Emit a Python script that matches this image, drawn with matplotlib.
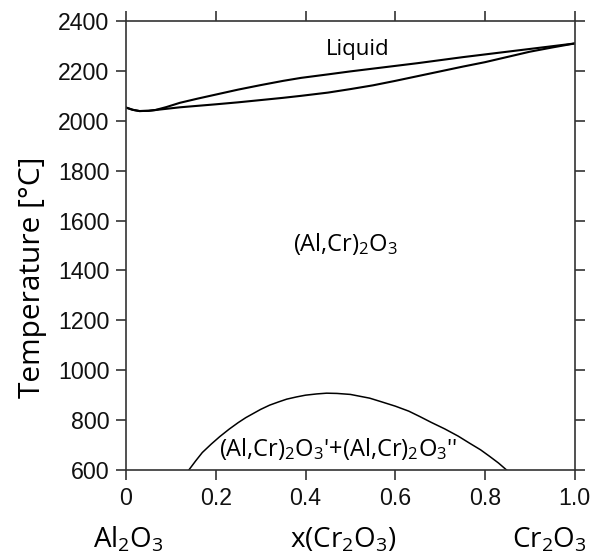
import matplotlib
matplotlib.use("Agg")
import matplotlib.pyplot as plt

# Liquidus and solidus of the Al2O3-Cr2O3 system (x = mole fraction Cr2O3)
x_melt = [0.0, 0.015, 0.03, 0.05, 0.065, 0.09, 0.12, 0.16, 0.2, 0.25, 0.3, 0.35, 0.39,
          0.45, 0.5, 0.55, 0.6, 0.65, 0.7, 0.75, 0.8, 0.85, 0.9, 0.95, 1.0]
T_liquidus = [2053, 2044, 2039, 2040, 2043, 2055, 2072, 2089, 2105, 2125, 2143, 2160, 2172,
              2186, 2198, 2209, 2220, 2231, 2243, 2255, 2266, 2277, 2288, 2299, 2310]
T_solidus = [2053, 2044, 2039, 2040, 2043, 2048, 2054, 2060, 2066, 2074, 2083, 2092, 2100,
             2113, 2127, 2142, 2160, 2179, 2198, 2217, 2235, 2256, 2277, 2294, 2310]

# Miscibility gap of the corundum solid solution
x_gap = [0.14, 0.155, 0.17, 0.19, 0.209, 0.23, 0.25, 0.267, 0.284, 0.30, 0.32, 0.34,
         0.358, 0.38, 0.40, 0.425, 0.447, 0.47, 0.50, 0.52, 0.543, 0.57, 0.60, 0.63,
         0.655, 0.68, 0.71, 0.74, 0.766, 0.79, 0.81, 0.83, 0.848]
T_gap = [600, 636, 670, 704, 734, 764, 790, 810, 827, 843, 860, 873,
         884, 893, 900, 905, 908, 907, 903, 896, 888, 873, 856, 836,
         814, 791, 765, 736, 707, 681, 655, 628, 600]

x_ticks = [0, 0.2, 0.4, 0.6, 0.8, 1.0]
x_ticklabels = ["0", "0.2", "0.4", "0.6", "0.8", "1.0"]
y_ticks = [600, 800, 1000, 1200, 1400, 1600, 1800, 2000, 2200, 2400]

plt.rcParams["mathtext.fontset"] = "custom"
plt.rcParams["mathtext.rm"] = "Open Sans"
plt.rcParams["mathtext.it"] = "Open Sans:italic"

LABEL_FONT = ["Open Sans", "DejaVu Sans"]
TICK_FONT = "Liberation Sans"
AX_COLOR = "#333333"

fig = plt.figure(figsize=(6.0, 5.6), dpi=100)
ax = fig.add_axes([0.21, 0.1607, 0.748, 0.8018])

ax.plot(x_melt, T_liquidus, color="black", lw=1.5, solid_joinstyle="round")
ax.plot(x_melt, T_solidus, color="black", lw=1.5, solid_joinstyle="round")
ax.plot(x_gap, T_gap, color="black", lw=1.1, solid_joinstyle="round")

ax.set_xlim(0, 1.0)
ax.set_ylim(600, 2400)

for side in ["left", "right", "top", "bottom"]:
    ax.spines[side].set_color(AX_COLOR)
    ax.spines[side].set_linewidth(1.2)

ax.set_xticks(x_ticks)
ax.set_xticklabels(x_ticklabels)
ax.set_yticks(y_ticks)
ax.tick_params(axis="both", direction="out", length=7, width=1.2, color=AX_COLOR,
               top=True, right=True, labeltop=False, labelright=False,
               labelsize=16.7, pad=5)
for lab in ax.get_xticklabels() + ax.get_yticklabels():
    lab.set_fontfamily(TICK_FONT)
    lab.set_color("#111111")

ax.set_ylabel("Temperature [°C]", fontsize=21.5, family=LABEL_FONT)
ax.yaxis.set_label_coords(-0.209, 0.43)
ax.yaxis.label.set_va("center")

ax.text(0.517, 2284, "Liquid", fontsize=16, family=LABEL_FONT,
        ha="center", va="center")
ax.text(0.488, 1505, r"(Al,Cr)$_\mathrm{2}$O$_\mathrm{3}$", fontsize=17,
        family=LABEL_FONT, ha="center", va="center")
ax.text(0.473, 684, r"(Al,Cr)$_\mathrm{2}$O$_\mathrm{3}$'+(Al,Cr)$_\mathrm{2}$O$_\mathrm{3}$''",
        fontsize=17, family=LABEL_FONT, ha="center", va="center")

# Component labels below the composition axis
fig.text(128 / 600, 1 - 548 / 560, r"Al$_\mathrm{2}$O$_\mathrm{3}$", fontsize=20,
         family=LABEL_FONT, ha="center", va="baseline")
fig.text(343 / 600, 1 - 548 / 560, r"x(Cr$_\mathrm{2}$O$_\mathrm{3}$)", fontsize=20,
         family=LABEL_FONT, ha="center", va="baseline")
fig.text(549 / 600, 1 - 548 / 560, r"Cr$_\mathrm{2}$O$_\mathrm{3}$", fontsize=20,
         family=LABEL_FONT, ha="center", va="baseline")

fig.savefig("out.png", dpi=100)
